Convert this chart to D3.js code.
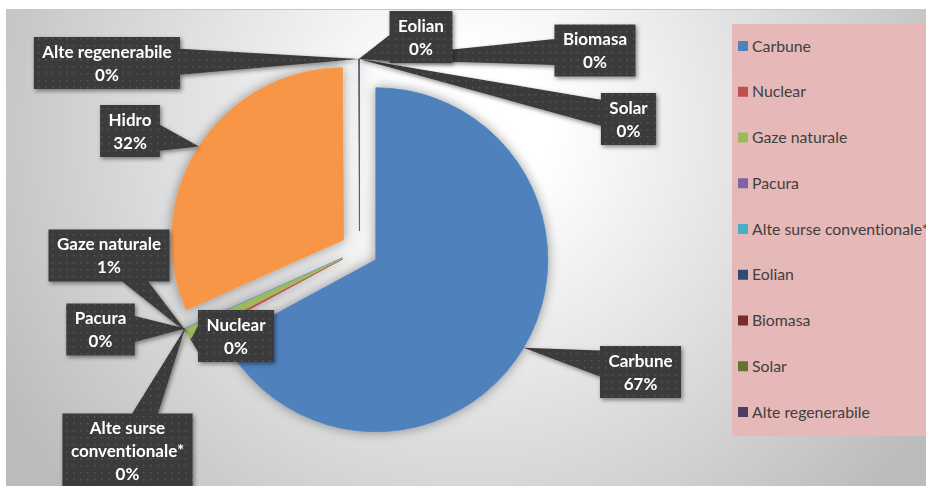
<!DOCTYPE html>
<html>
<head>
<meta charset="utf-8">
<script src="https://cdn.jsdelivr.net/npm/d3@7"></script>
<style>
  html, body { margin: 0; padding: 0; background: #fff; }
  svg { display: block; }
  text { font-variant-ligatures: none; }
</style>
</head>
<body>
<script>
const categories = ["Carbune", "Nuclear", "Gaze naturale", "Pacura", "Alte surse conventionale*",
  "Hidro", "Eolian", "Biomasa", "Solar", "Alte regenerabile"];
const shares = [67.1, 0.25, 0.9, 0.03, 0.03, 31.6, 0.05, 0.02, 0.01, 0.01];
const colors = ["#4f81bd", "#c0504d", "#9bbb59", "#8064a2", "#4bacc6",
  "#f79646", "#2c4d75", "#772c2a", "#5f7530", "#4d3b62"];
const legendNames = ["Carbune", "Nuclear", "Gaze naturale", "Pacura", "Alte surse conventionale*",
  "Eolian", "Biomasa", "Solar", "Alte regenerabile"];

// where each callout box sits (centre)
const labelAt = {
  "Carbune": [640.5, 372],
  "Nuclear": [236, 336],
  "Gaze naturale": [109, 255.5],
  "Pacura": [100.5, 329.5],
  "Alte surse conventionale*": [127.5, 451],
  "Hidro": [130, 131],
  "Eolian": [421, 37],
  "Biomasa": [595, 50.5],
  "Solar": [628.5, 119],
  "Alte regenerabile": [107, 63]
};

const width = 926, height = 486;
const cx = 359.5, cy = 250, radius = 172, explode = 19;

const svg = d3.select("body").append("svg")
  .attr("width", width)
  .attr("height", height);

const defs = svg.append("defs");

const grad = defs.append("radialGradient")
  .attr("id", "bg")
  .attr("gradientUnits", "userSpaceOnUse")
  .attr("cx", 470).attr("cy", 130).attr("r", 540);
grad.append("stop").attr("offset", 0).attr("stop-color", "#ffffff");
grad.append("stop").attr("offset", 0.15).attr("stop-color", "#ffffff");
grad.append("stop").attr("offset", 1).attr("stop-color", "#bcbcbc");

const pat = defs.append("pattern")
  .attr("id", "dots")
  .attr("patternUnits", "userSpaceOnUse")
  .attr("width", 7).attr("height", 7);
pat.append("rect").attr("width", 7).attr("height", 7).attr("fill", "#3b3b3b");
pat.append("rect").attr("x", 3).attr("y", 3).attr("width", 1.5).attr("height", 1.5).attr("fill", "#575757");

const pieShadow = defs.append("filter").attr("id", "pieShadow")
  .attr("x", "-20%").attr("y", "-20%").attr("width", "140%").attr("height", "140%");
pieShadow.append("feDropShadow")
  .attr("dx", 0).attr("dy", 0).attr("stdDeviation", 6)
  .attr("flood-color", "#000").attr("flood-opacity", 0.4);

const boxShadow = defs.append("filter").attr("id", "boxShadow")
  .attr("x", "-20%").attr("y", "-20%").attr("width", "140%").attr("height", "140%");
boxShadow.append("feDropShadow")
  .attr("dx", 1.5).attr("dy", 2).attr("stdDeviation", 2)
  .attr("flood-color", "#000").attr("flood-opacity", 0.45);

defs.append("clipPath").attr("id", "plotClip")
  .append("rect").attr("x", 6).attr("y", 9).attr("width", width - 6).attr("height", height - 9);

// chart area
svg.append("rect")
  .attr("x", 6).attr("y", 9)
  .attr("width", width - 6).attr("height", height - 9)
  .attr("fill", "url(#bg)");
svg.append("line")
  .attr("x1", 6).attr("x2", width).attr("y1", 9.5).attr("y2", 9.5)
  .attr("stroke", "#c8c8c8");

const data = categories.map((name, i) => ({ name, value: shares[i], color: colors[i] }));
const total = d3.sum(shares);

const pie = d3.pie().sort(null).value(d => d.value);
const arcs = pie(data);

const arc = d3.arc().innerRadius(0).outerRadius(radius);

function dir(a) {
  return [Math.sin(a), -Math.cos(a)];
}

const pieG = svg.append("g")
  .attr("transform", `translate(${cx},${cy})`)
  .attr("filter", "url(#pieShadow)");

pieG.selectAll("path")
  .data(arcs)
  .enter()
  .append("path")
  .attr("transform", d => {
    const [dx, dy] = dir((d.startAngle + d.endAngle) / 2);
    return `translate(${dx * explode},${dy * explode})`;
  })
  .attr("d", arc)
  .attr("fill", d => d.data.color)
  .attr("stroke", d => d.data.color)
  .attr("stroke-opacity", d => d.data.value < 0.1 ? 0.6 : 1)
  .attr("stroke-width", d => d.data.value < 0.1 ? 0.4 : 0.8);

// callouts (drawn last-to-first so earlier ones sit on top)
const labelG = svg.append("g").attr("clip-path", "url(#plotClip)");
const lineH = 23;
const maxLine = 150;

arcs.slice().reverse().forEach(d => {
  const name = d.data.name;
  const [bx, by] = labelAt[name];
  const [ux, uy] = dir((d.startAngle + d.endAngle) / 2);
  const tip = [cx + ux * (explode + radius), cy + uy * (explode + radius)];

  const g = labelG.append("g").attr("filter", "url(#boxShadow)");
  const shape = g.append("path").attr("fill", "url(#dots)");
  const txt = g.append("text")
    .attr("font-family", "Lato, 'Open Sans', sans-serif")
    .attr("font-weight", "bold")
    .attr("font-size", 17)
    .attr("fill", "#ffffff")
    .attr("text-anchor", "middle");

  // wrap the name into lines
  const words = name.split(" ");
  const lines = [];
  let cur = "";
  const probe = txt.append("tspan");
  words.forEach(w => {
    const tryLine = cur ? cur + " " + w : w;
    probe.text(tryLine);
    if (cur && probe.node().getComputedTextLength() > maxLine) {
      lines.push(cur);
      cur = w;
    } else {
      cur = tryLine;
    }
  });
  lines.push(cur);
  probe.remove();
  lines.push(Math.round(d.data.value / total * 100) + "%");

  let wMax = 0;
  lines.forEach((t, i) => {
    const ts = txt.append("tspan")
      .attr("x", bx)
      .attr("y", by + (i - (lines.length - 1) / 2) * lineH + 6)
      .text(t);
    wMax = Math.max(wMax, ts.node().getComputedTextLength());
  });

  const w = wMax + 17, h = lines.length * lineH + 6;
  const x0 = bx - w / 2, y0 = by - h / 2, x1 = bx + w / 2, y1 = by + h / 2;

  // wedge from the box edge toward the slice
  const vx = tip[0] - bx, vy = tip[1] - by;
  const tx = vx !== 0 ? (w / 2) / Math.abs(vx) : Infinity;
  const ty = vy !== 0 ? (h / 2) / Math.abs(vy) : Infinity;
  const hw = 13;
  let p1, p2;
  if (tx < ty) {
    const ex = vx > 0 ? x1 : x0;
    const ey = by + vy * tx;
    const a = Math.max(y0, ey - hw), b = Math.min(y1, ey + hw);
    p1 = [ex, a]; p2 = [ex, b];
  } else {
    const ey = vy > 0 ? y1 : y0;
    const ex = bx + vx * ty;
    const a = Math.max(x0, ex - hw), b = Math.min(x1, ex + hw);
    p1 = [a, ey]; p2 = [b, ey];
  }
  const inside = tip[0] > x0 && tip[0] < x1 && tip[1] > y0 && tip[1] < y1;
  let dPath = `M${x0},${y0}H${x1}V${y1}H${x0}Z`;
  if (!inside) {
    dPath += `M${p1[0]},${p1[1]}L${tip[0]},${tip[1]}L${p2[0]},${p2[1]}Z`;
  }
  shape.attr("d", dPath);
  txt.raise();
});

// legend
const legend = svg.append("g");
legend.append("rect")
  .attr("x", 732).attr("y", 24)
  .attr("width", width - 732).attr("height", 412)
  .attr("fill", "#e6b8b7");

const legendY = d3.scalePoint()
  .domain(legendNames)
  .range([46, 412]);

const item = legend.selectAll(".item")
  .data(legendNames)
  .enter()
  .append("g")
  .attr("class", "item")
  .attr("transform", n => `translate(738,${legendY(n)})`);

item.append("rect")
  .attr("x", 0).attr("y", -5)
  .attr("width", 10).attr("height", 10)
  .attr("fill", n => colors[categories.indexOf(n)]);

item.append("text")
  .attr("x", 14)
  .attr("y", 5.5)
  .attr("font-family", "Lato, 'Open Sans', sans-serif")
  .attr("font-size", 15.8)
  .attr("fill", "#404040")
  .text(n => n);
</script>
</body>
</html>
